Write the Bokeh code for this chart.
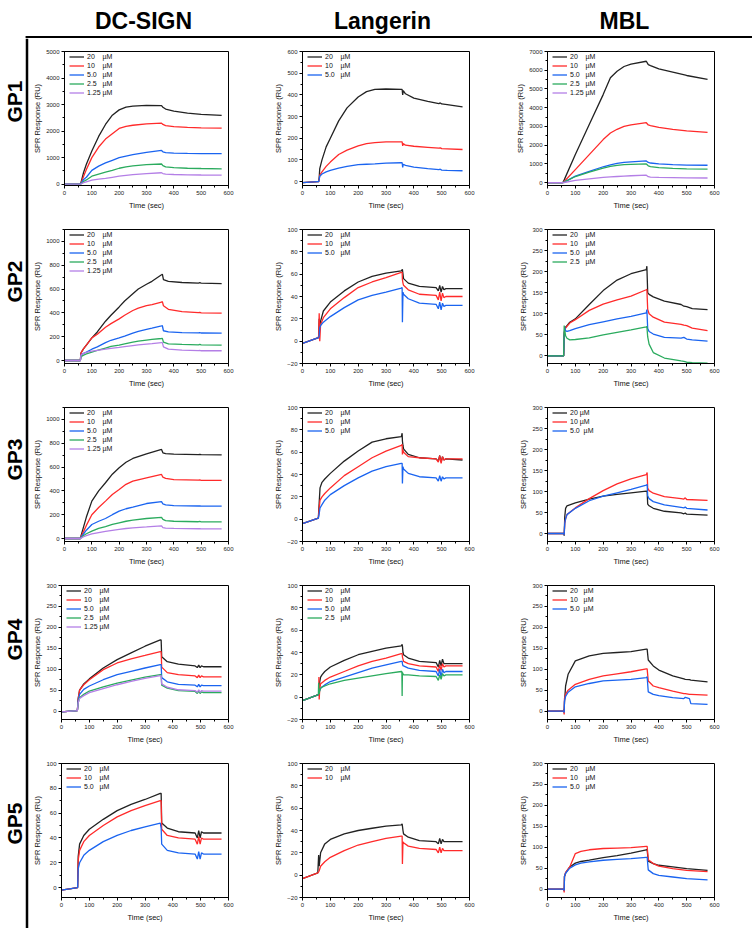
import math
from bokeh.plotting import figure
from bokeh.layouts import column, row
from bokeh.models import Range1d, SingleIntervalTicker, Legend, LegendItem
from bokeh.core.properties import value
from bokeh.embed import file_html
from bokeh.resources import INLINE

FONT = "Liberation Sans"
NB = "\u00a0"

COLUMN_TITLES = ["DC-SIGN", "Langerin", "MBL"]
ROW_TITLES = ["GP1", "GP2", "GP3", "GP4", "GP5"]
X_LABEL = "Time (sec)"
Y_LABEL = "SPR Response (RU)"

LAB_20 = "20" + NB * 4 + "µM"
LAB_10 = "10" + NB * 4 + "µM"
LAB_5 = "5.0" + NB * 3 + "µM"
LAB_25 = "2.5" + NB * 3 + "µM"
LAB_125 = "1.25" + NB + "µM"

BLACK = "#222222"
RED = "#ff2a2a"
BLUE = "#1a64f0"
GREEN = "#2bab5e"
PURPLE = "#b47fe6"

# ---------------- GP1 ----------------
GP1_DC_T = [0, 55, 60, 70, 80, 100, 125, 150, 175, 200, 225, 250, 300, 355, 360, 370, 400, 450, 500, 575]
GP1_DC_20 = [0, 0, 50, 450, 750, 1250, 1800, 2250, 2600, 2800, 2900, 2940, 2970, 2960, 2900, 2830, 2750, 2680, 2630, 2590]
GP1_DC_10 = [0, 0, 30, 300, 550, 1000, 1400, 1700, 1900, 2100, 2180, 2220, 2270, 2300, 2250, 2210, 2170, 2140, 2120, 2110]
GP1_DC_5 = [0, 0, 20, 180, 260, 520, 680, 800, 900, 1000, 1060, 1110, 1200, 1270, 1220, 1190, 1170, 1160, 1155, 1150]
GP1_DC_25 = [0, 0, 10, 100, 160, 300, 380, 450, 520, 600, 650, 690, 740, 760, 700, 650, 620, 600, 590, 580]
GP1_DC_125 = [0, 0, 5, 60, 90, 150, 190, 220, 260, 300, 330, 360, 400, 430, 400, 380, 365, 350, 345, 340]

GP1_LAN_T = [0, 55, 58, 60, 62, 70, 85, 100, 130, 160, 200, 230, 260, 300, 355, 358, 360, 362, 370, 400, 450, 490, 495, 500, 520, 575]
GP1_LAN_20 = [-5, 0, 0, 20, 60, 100, 160, 200, 280, 340, 390, 415, 425, 427, 425, 425, 400, 420, 405, 385, 370, 360, 363, 358, 355, 345]
GP1_LAN_10 = [-5, 0, 0, 10, 30, 45, 70, 90, 125, 145, 165, 175, 180, 183, 183, 183, 165, 175, 168, 163, 158, 154, 156, 152, 151, 148]
GP1_LAN_5 = [-5, 0, 0, 10, 25, 35, 45, 52, 62, 70, 78, 80, 82, 85, 87, 87, 65, 80, 75, 67, 60, 55, 57, 53, 52, 50]

GP1_MBL_T = [0, 55, 60, 100, 150, 200, 226, 250, 275, 300, 355, 362, 370, 400, 450, 500, 575]
GP1_MBL_20 = [0, 0, 150, 1500, 3100, 4700, 5600, 5950, 6200, 6330, 6480, 6300, 6250, 6070, 5900, 5720, 5510]
GP1_MBL_10 = [0, 0, 60, 700, 1500, 2300, 2650, 2850, 3000, 3080, 3200, 3080, 3050, 2950, 2850, 2760, 2680]
GP1_MBL_5 = [0, 0, 30, 350, 600, 850, 950, 1030, 1080, 1110, 1160, 1080, 1050, 1000, 960, 940, 930]
GP1_MBL_25 = [0, 0, 30, 330, 560, 780, 870, 920, 960, 980, 1000, 900, 860, 800, 760, 740, 720]
GP1_MBL_125 = [0, 0, 10, 120, 200, 280, 310, 330, 350, 370, 400, 320, 300, 280, 270, 260, 250]

# ---------------- GP2 ----------------
GP2_DC_T = [0, 58, 60, 62, 70, 80, 100, 120, 150, 170, 200, 220, 250, 270, 300, 320, 355, 358, 362, 380, 430, 490, 495, 500, 575]
GP2_DC_20 = [0, 0, 60, 70, 100, 130, 190, 240, 330, 380, 450, 500, 560, 600, 640, 665, 720, 725, 680, 665, 655, 650, 653, 650, 645]
GP2_DC_10 = [0, 0, 60, 70, 100, 130, 190, 220, 280, 310, 350, 380, 420, 440, 460, 470, 490, 495, 460, 430, 410, 402, 405, 400, 398]
GP2_DC_5 = [0, 0, 40, 50, 60, 70, 95, 115, 150, 170, 190, 205, 230, 245, 262, 272, 290, 292, 250, 240, 235, 232, 235, 231, 230]
GP2_DC_25 = [0, 0, 30, 35, 45, 55, 70, 85, 105, 118, 130, 140, 155, 163, 172, 177, 185, 186, 155, 140, 135, 132, 135, 131, 130]
GP2_DC_125 = [0, 0, 40, 50, 60, 68, 78, 85, 95, 102, 110, 116, 125, 131, 138, 142, 150, 150, 115, 95, 87, 83, 85, 82, 82]

GP2_LAN_T = [0, 55, 58, 60, 62, 65, 75, 100, 150, 200, 250, 300, 355, 358, 359, 361, 363, 380, 420, 480, 488, 493, 498, 503, 508, 515, 575]
GP2_LAN_20 = [-2, 3, 4, 20, 12, 18, 27, 35, 45, 53, 58, 61, 63, 64, 64, 60, 56, 52, 49, 48, 45, 50, 44, 49, 46, 47, 47]
GP2_LAN_10 = [-2, 3, 3, 25, 0, 15, 21, 29, 39, 48, 53, 57, 61.5, 62, 55, 52, 50, 46, 42, 41, 37, 44, 36, 43, 39, 40, 40]
GP2_LAN_5 = [-2, 3, 3, 5, 12, 14, 17, 22, 30, 37, 41, 44, 47.5, 48, 17, 44, 42, 38, 34, 33, 29, 35, 28, 34, 31, 32, 32]

GP2_MBL_T = [0, 58, 60, 62, 65, 70, 80, 100, 150, 200, 250, 300, 355, 357, 360, 365, 380, 420, 480, 490, 500, 520, 575]
GP2_MBL_20 = [0, 0, 50, 62, 68, 72, 80, 88, 122, 155, 180, 195, 205, 213, 150, 146, 140, 130, 122, 118, 117, 112, 110]
GP2_MBL_10 = [0, 0, 55, 62, 66, 70, 78, 86, 108, 123, 133, 142, 157, 158, 110, 100, 92, 80, 75, 73, 72, 66, 60]
GP2_MBL_5 = [0, 0, 50, 68, 60, 58, 60, 65, 74, 81, 88, 94, 102, 110, 65, 58, 52, 44, 42, 44, 40, 38, 35]
GP2_MBL_25 = [0, 0, 72, 60, 48, 42, 38, 39, 43, 50, 56, 62, 69, 70, 45, 28, 8, -5, -12, -13, -15, -16, -17]

# ---------------- GP3 ----------------
GP3_DC_T = [0, 58, 60, 70, 80, 100, 125, 150, 175, 200, 225, 250, 300, 355, 360, 370, 400, 490, 495, 500, 575]
GP3_DC_20 = [0, 0, 20, 100, 180, 314, 400, 468, 540, 594, 640, 672, 711, 748, 720, 712, 708, 705, 707, 704, 703]
GP3_DC_10 = [0, 0, 15, 60, 110, 200, 260, 314, 370, 412, 455, 482, 510, 538, 515, 505, 495, 490, 492, 489, 488]
GP3_DC_5 = [0, 0, 10, 40, 70, 118, 145, 168, 200, 230, 250, 263, 294, 310, 290, 282, 277, 273, 275, 272, 272]
GP3_DC_25 = [0, 0, 5, 25, 40, 62, 85, 100, 118, 132, 145, 155, 168, 178, 160, 150, 145, 141, 143, 140, 140]
GP3_DC_125 = [0, 0, 3, 15, 25, 39, 50, 60, 68, 76, 84, 90, 97, 106, 92, 88, 85, 82, 84, 81, 81]

GP3_LAN_T = [0, 57, 60, 63, 70, 80, 100, 150, 200, 250, 300, 355, 358, 359, 361, 363, 380, 420, 480, 488, 493, 498, 503, 508, 515, 575]
GP3_LAN_20 = [-4, 1, 15, 28, 33, 36, 41, 52, 61, 69, 72, 74, 77, 70, 66, 63, 58, 55, 54, 52, 57, 51, 56, 53, 54, 53]
GP3_LAN_10 = [-4, 1, 10, 17, 20, 23, 28, 39, 47, 55, 61, 66, 67, 58, 62, 60, 56, 55, 54, 51, 57, 50, 56, 53, 54, 54]
GP3_LAN_5 = [-4, 1, 5, 10, 13, 17, 22, 30, 37, 43, 47, 50, 50, 32, 47, 45, 41, 38, 37, 34, 39, 34, 38, 36, 37, 37]

GP3_MBL_T = [0, 58, 60, 62, 65, 70, 100, 150, 200, 250, 300, 355, 358, 360, 365, 380, 420, 480, 490, 495, 500, 575]
GP3_MBL_20 = [0, 0, -5, 40, 60, 66, 73, 82, 89, 93, 97, 101, 100, 70, 66, 60, 53, 49, 47, 49, 46, 44]
GP3_MBL_10 = [0, 0, -3, 25, 35, 45, 61, 83, 102, 118, 130, 140, 145, 108, 102, 96, 88, 83, 82, 85, 81, 79]
GP3_MBL_5 = [0, 0, -3, 25, 35, 45, 60, 78, 89, 97, 105, 115, 117, 90, 83, 76, 68, 62, 61, 63, 60, 56]

# ---------------- GP4 ----------------
GP4_DC_T = [0, 57, 60, 65, 80, 100, 150, 200, 250, 300, 355, 358, 360, 380, 420, 480, 488, 493, 498, 503, 510, 575]
GP4_DC_20 = [-2, 1, 30, 50, 65, 77, 103, 123, 139, 155, 170, 170, 130, 118, 112, 108, 104, 110, 104, 108, 106, 106]
GP4_DC_10 = [-2, 1, 30, 50, 63, 75, 99, 115, 125, 133, 142, 142, 105, 92, 87, 84, 80, 86, 80, 84, 82, 82]
GP4_DC_5 = [-2, 1, 25, 40, 52, 60, 75, 87, 95, 103, 111, 111, 80, 70, 64, 62, 58, 64, 58, 62, 61, 61]
GP4_DC_25 = [-2, 1, 20, 32, 40, 48, 58, 67, 74, 81, 87, 87, 62, 55, 49, 47, 42, 48, 42, 46, 44, 44]
GP4_DC_125 = [-2, 1, 20, 30, 37, 44, 54, 63, 71, 78, 85, 85, 65, 57, 51, 49, 45, 51, 45, 49, 48, 48]

GP4_LAN_T = [0, 55, 57, 58, 59, 60, 62, 65, 70, 80, 100, 150, 200, 250, 300, 355, 357, 358, 359, 361, 363, 380, 420, 480, 488, 493, 498, 503, 508, 515, 575]
GP4_LAN_20 = [-3, 2, 2, 3, 4, 5, 14, 18, 20, 23, 27, 33, 38, 41, 44, 46, 47, 47, 46, 40, 38, 35, 32, 31, 27, 33, 28, 34, 30, 30, 30]
GP4_LAN_10 = [-3, 2, 2, 3, 18, -2, 8, 12, 13, 15, 18, 23, 28, 32, 35, 39, 39, 39, 36, 34, 32, 30, 28, 27, 23, 29, 24, 30, 27, 28, 28]
GP4_LAN_5 = [-3, 2, 2, 3, 4, 5, 6, 8, 9, 11, 14, 18, 22, 26, 29, 32, 32, 32, 30, 28, 28, 26, 24, 23, 19, 25, 18, 25, 22, 23, 23]
GP4_LAN_25 = [-3, 2, 2, 13, 5, 3, 6, 8, 9, 10, 12, 15, 17, 19, 21, 23, 23, 1, 22, 21, 20, 20, 19, 18.5, 15, 20, 16, 21, 19, 20, 20]

GP4_MBL_T = [0, 58, 60, 61, 65, 74, 100, 150, 200, 250, 300, 355, 358, 362, 380, 400, 450, 490, 495, 510, 515, 575]
GP4_MBL_20 = [0, 0, 5, 20, 60, 88, 120, 132, 138, 140, 142, 148, 148, 122, 108, 98, 84, 77, 76, 75, 74, 70]
GP4_MBL_10 = [0, 0, -8, 30, 40, 50, 64, 76, 84, 89, 94, 101, 101, 72, 60, 56, 48, 42, 42, 40, 40, 38]
GP4_MBL_5 = [0, 0, -3, 25, 35, 45, 58, 66, 72, 74, 76, 80, 82, 46, 40, 37, 32, 30, 33, 30, 18, 16]

# ---------------- GP5 ----------------
GP5_DC_T = [0, 58, 60, 65, 80, 100, 150, 200, 250, 300, 355, 358, 360, 380, 420, 480, 488, 493, 498, 503, 510, 575]
GP5_DC_20 = [-2, 0, 25, 35, 42, 47, 55, 62, 67, 71, 76, 76, 52, 48, 45, 44, 40, 46, 40, 45, 44, 44]
GP5_DC_10 = [-2, 0, 22, 30, 37, 42, 50, 57, 62, 66, 70, 70, 47, 42, 40, 39, 35, 41, 35, 40, 39, 39]
GP5_DC_5 = [-2, 0, 15, 20, 26, 30, 37, 42, 46, 49, 52, 48, 35, 30, 28, 27, 23, 29, 23, 28, 27, 27]

GP5_LAN_T = [0, 55, 58, 60, 65, 80, 100, 150, 200, 250, 300, 355, 358, 359, 361, 363, 380, 420, 480, 488, 493, 498, 503, 508, 515, 575]
GP5_LAN_20 = [-3, 2, 18, 8, 20, 28, 32, 37, 40, 42, 44, 45, 46, 44, 40, 37, 34, 31, 30, 28, 33, 28, 32, 30, 30, 30]
GP5_LAN_10 = [-3, 2, 3, 4, 8, 12, 16, 22, 27, 30, 33, 35, 35, 10, 30, 29, 26, 24, 23, 20, 25, 20, 24, 22, 22, 22]

GP5_MBL_T = [0, 58, 60, 61, 65, 80, 100, 120, 150, 200, 250, 300, 355, 358, 362, 380, 400, 450, 500, 575]
GP5_MBL_20 = [0, 0, -3, 30, 38, 53, 62, 66, 69, 75, 80, 86, 94, 94, 67, 61, 57, 53, 49, 45]
GP5_MBL_10 = [0, 0, -8, 30, 40, 53, 85, 90, 94, 97, 98, 99, 102, 102, 70, 61, 55, 49, 45, 42]
GP5_MBL_5 = [0, 0, -3, 30, 38, 50, 58, 62, 65, 69, 71, 73, 76, 76, 46, 37, 33, 29, 25, 22]

# y-axis ranges (start, end, tick step) per panel
Y_RANGES = [
    [(-50, 5000, 1000), (-18, 600, 100), (-150, 7000, 1000)],
    [(-25, 1100, 200), (-20, 100, 20), (-18, 300, 50)],
    [(-25, 1100, 200), (-20, 100, 20), (-19, 300, 50)],
    [(-20, 300, 50), (-20, 100, 20), (-20, 300, 50)],
    [(-8, 100, 20), (-20, 100, 20), (-20, 300, 50)],
]

FIVE = [LAB_20, LAB_10, LAB_5, LAB_25, LAB_125]
FIVE_C = [BLACK, RED, BLUE, GREEN, PURPLE]

PANELS = [
    [
        (GP1_DC_T, [GP1_DC_20, GP1_DC_10, GP1_DC_5, GP1_DC_25, GP1_DC_125], FIVE, FIVE_C),
        (GP1_LAN_T, [GP1_LAN_20, GP1_LAN_10, GP1_LAN_5], FIVE[:3], FIVE_C[:3]),
        (GP1_MBL_T, [GP1_MBL_20, GP1_MBL_10, GP1_MBL_5, GP1_MBL_25, GP1_MBL_125], FIVE, FIVE_C),
    ],
    [
        (GP2_DC_T, [GP2_DC_20, GP2_DC_10, GP2_DC_5, GP2_DC_25, GP2_DC_125], FIVE, FIVE_C),
        (GP2_LAN_T, [GP2_LAN_20, GP2_LAN_10, GP2_LAN_5], FIVE[:3], FIVE_C[:3]),
        (GP2_MBL_T, [GP2_MBL_20, GP2_MBL_10, GP2_MBL_5, GP2_MBL_25], FIVE[:4], FIVE_C[:4]),
    ],
    [
        (GP3_DC_T, [GP3_DC_20, GP3_DC_10, GP3_DC_5, GP3_DC_25, GP3_DC_125], FIVE, FIVE_C),
        (GP3_LAN_T, [GP3_LAN_20, GP3_LAN_10, GP3_LAN_5], FIVE[:3], FIVE_C[:3]),
        (GP3_MBL_T, [GP3_MBL_20, GP3_MBL_10, GP3_MBL_5],
         ["20" + NB + "µM", "10" + NB + "µM", "5.0" + NB * 2 + "µM"], FIVE_C[:3]),
    ],
    [
        (GP4_DC_T, [GP4_DC_20, GP4_DC_10, GP4_DC_5, GP4_DC_25, GP4_DC_125], FIVE, FIVE_C),
        (GP4_LAN_T, [GP4_LAN_20, GP4_LAN_10, GP4_LAN_5, GP4_LAN_25], FIVE[:4], FIVE_C[:4]),
        (GP4_MBL_T, [GP4_MBL_20, GP4_MBL_10, GP4_MBL_5],
         ["20" + NB * 3 + "µM", "10" + NB * 3 + "µM", "5.0" + NB * 2 + "µM"], FIVE_C[:3]),
    ],
    [
        (GP5_DC_T, [GP5_DC_20, GP5_DC_10, GP5_DC_5], FIVE[:3], FIVE_C[:3]),
        (GP5_LAN_T, [GP5_LAN_20, GP5_LAN_10], FIVE[:2], FIVE_C[:2]),
        (GP5_MBL_T, [GP5_MBL_20, GP5_MBL_10, GP5_MBL_5], FIVE[:3], FIVE_C[:3]),
    ],
]

LEFT_W = 30
HDR_H = 38
CELL_W = [240, 240, 240]
BORDER_L = [31, 32, 37]
FRAME_W = 167
CELL_H = 178
BORDER_T = 13
BORDER_B = 31
FRAME_H = CELL_H - BORDER_T - BORDER_B
ENTRY_H = 9


def make_panel(t, series, labels, colors, yr, col):
    y0, y1, step = yr
    w = CELL_W[col]
    p = figure(width=w, height=CELL_H, output_backend="svg", toolbar_location=None,
               x_range=Range1d(0, 600), y_range=Range1d(y0, y1),
               min_border_left=BORDER_L[col], min_border_right=w - BORDER_L[col] - FRAME_W,
               min_border_top=BORDER_T, min_border_bottom=BORDER_B)
    p.xgrid.visible = False
    p.ygrid.visible = False
    p.outline_line_color = "black"
    p.outline_line_alpha = 1
    p.outline_line_width = 1
    p.background_fill_color = "white"
    p.border_fill_color = "white"
    p.xaxis.ticker = SingleIntervalTicker(interval=100, num_minor_ticks=2)
    p.yaxis.ticker = SingleIntervalTicker(interval=step, num_minor_ticks=2)
    p.xaxis.axis_label = X_LABEL
    p.yaxis.axis_label = Y_LABEL
    for ax in (p.xaxis[0], p.yaxis[0]):
        ax.axis_line_color = "black"
        ax.major_tick_line_color = "black"
        ax.minor_tick_line_color = "black"
        ax.major_tick_in = 0
        ax.major_tick_out = 3
        ax.minor_tick_in = 0
        ax.minor_tick_out = 2
        ax.major_label_text_font = FONT
        ax.major_label_text_font_size = "6px"
        ax.major_label_text_color = "#222222"
        ax.major_label_standoff = 2
        ax.axis_label_text_font = FONT
        ax.axis_label_text_font_size = "7.5px"
        ax.axis_label_text_font_style = "normal"
        ax.axis_label_text_color = "#111111"
    p.xaxis.axis_label_standoff = 3
    p.yaxis.axis_label_standoff = 1
    items = []
    for y, lab, c in zip(series, labels, colors):
        r = p.line(t, y, line_color=c, line_width=1.3)
        items.append(LegendItem(label=lab, renderers=[r]))
    n = len(items)
    leg = Legend(items=items, location=(5, FRAME_H - n * ENTRY_H - 1),
                 label_text_font=FONT, label_text_font_size="7px", label_text_color="#111111",
                 glyph_width=15, glyph_height=ENTRY_H, label_height=ENTRY_H, label_standoff=3,
                 spacing=0, padding=0, margin=0, border_line_alpha=0, background_fill_alpha=0)
    p.add_layout(leg)
    return p


rows = []
for ri in range(5):
    figs = []
    for ci in range(3):
        t, series, labels, colors = PANELS[ri][ci]
        figs.append(make_panel(t, series, labels, colors, Y_RANGES[ri][ci], ci))
    rows.append(row(*figs))

TOTAL_W = 752
GRID_H = CELL_H * 5

hdr = figure(width=TOTAL_W, height=HDR_H, output_backend="svg", toolbar_location=None,
             x_range=Range1d(0, TOTAL_W), y_range=Range1d(0, HDR_H),
             x_axis_location=None, y_axis_location=None, min_border=0)
hdr.xgrid.visible = False
hdr.ygrid.visible = False
hdr.outline_line_color = None
hdr.text(x=[143, 382, 624], y=[18, 18, 18], text=COLUMN_TITLES,
         text_font=value(FONT), text_font_style="bold", text_font_size="23px",
         text_align="center", text_baseline="middle", text_color="black")
hdr.line([25.25, TOTAL_W], [1.25, 1.25], line_color="black", line_width=2.5)
hdr.line([26.5, 26.5], [0, 2.5], line_color="black", line_width=2.5)

left = figure(width=LEFT_W, height=GRID_H, output_backend="svg", toolbar_location=None,
              x_range=Range1d(0, LEFT_W), y_range=Range1d(0, GRID_H),
              x_axis_location=None, y_axis_location=None, min_border=0)
left.xgrid.visible = False
left.ygrid.visible = False
left.outline_line_color = None
left.line([26.5, 26.5], [0, GRID_H], line_color="black", line_width=2.5)
left.text(x=[13.5] * 5, y=[827, 647, 469, 289, 105], text=ROW_TITLES, angle=math.pi / 2,
          text_font=value(FONT), text_font_style="bold", text_font_size="21px",
          text_align="center", text_baseline="middle", text_color="black")

layout = column(hdr, row(left, column(*rows)))

open("out.html", "w").write(file_html(layout, INLINE, title="SPR sensorgrams"))
